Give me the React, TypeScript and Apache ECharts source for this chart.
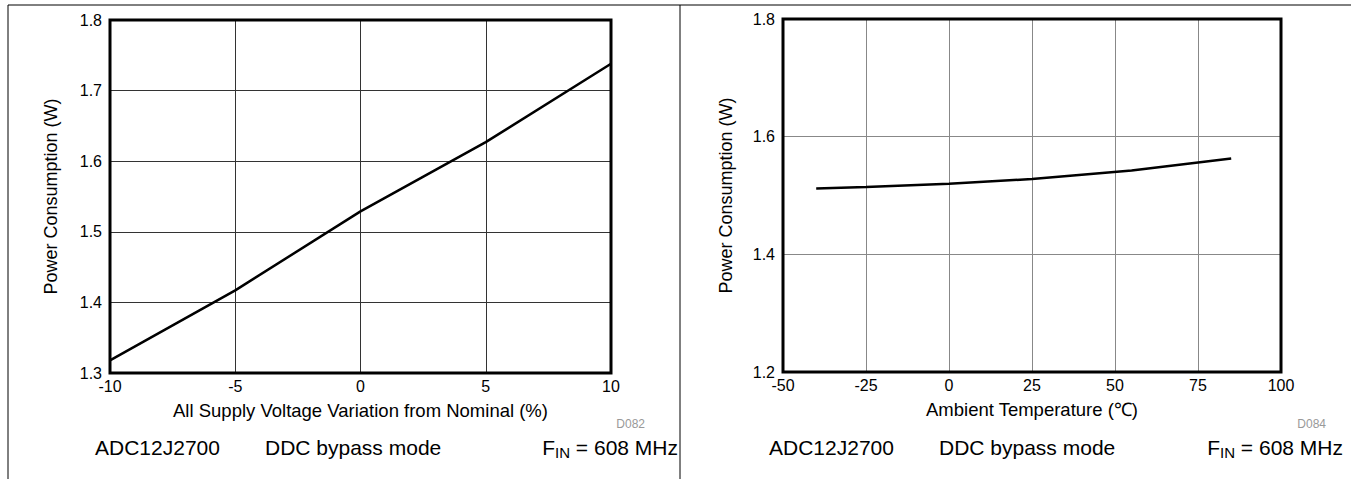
import React, { useEffect, useRef } from "react";
import * as echarts from "echarts";

const voltageVariation = [-10, -5, 0, 5, 10];
const powerVsVoltage = [1.318, 1.417, 1.529, 1.627, 1.738];
const ambientTemp = [-40, -25, 0, 25, 55, 85];
const powerVsTemp = [1.512, 1.5145, 1.52, 1.528, 1.5425, 1.563];

const leftXName = "All Supply Voltage Variation from Nominal (%)";
const rightXName = "Ambient Temperature (℃)";
const yName = "Power Consumption (W)";
const deviceLabel = "ADC12J2700";
const modeLabel = "DDC bypass mode";
const leftCode = "D082";
const rightCode = "D084";

const FONT = "'Liberation Sans', Arial, sans-serif";

export default function App() {
  const ref = useRef<HTMLDivElement>(null);
  useEffect(() => {
    if (!ref.current) return;
    const chart = echarts.init(ref.current, undefined, { renderer: "svg" });
    const tickLabel = { color: "#000", fontSize: 16, fontFamily: FONT };
    const nameStyle = { color: "#000", fontSize: 18.5, fontFamily: FONT };
    const makeY = (gi: number, min: number, max: number, interval: number, gridColor: string, gap: number) => ({
      type: "value",
      gridIndex: gi,
      min,
      max,
      interval,
      name: yName,
      nameLocation: "middle",
      nameGap: gap,
      nameTextStyle: { ...nameStyle, fontSize: 18 },
      axisLine: { show: false },
      axisTick: { show: false },
      axisLabel: { ...tickLabel, margin: 8, formatter: (v: number) => v.toFixed(1) },
      splitLine: { show: true, lineStyle: { color: gridColor, width: 1 } },
    });
    const makeX = (gi: number, min: number, max: number, interval: number, name: string, gridColor: string) => ({
      type: "value",
      gridIndex: gi,
      min,
      max,
      interval,
      name,
      nameLocation: "middle",
      nameGap: 28,
      nameTextStyle: nameStyle,
      axisLine: { show: false },
      axisTick: { show: false },
      axisLabel: { ...tickLabel, margin: 5 },
      splitLine: { show: true, lineStyle: { color: gridColor, width: 1 } },
    });
    const annotation = (xLeft: number, xMid: number, xRight: number) => [
      {
        type: "text",
        x: xLeft,
        y: 447,
        style: { text: deviceLabel, fill: "#000", fontSize: 21, fontFamily: FONT, align: "left", verticalAlign: "middle" },
      },
      {
        type: "text",
        x: xMid,
        y: 447,
        style: { text: modeLabel, fill: "#000", fontSize: 21, fontFamily: FONT, align: "left", verticalAlign: "middle" },
      },
      {
        type: "text",
        x: xRight,
        y: 447,
        style: {
          text: "{m|F}{s|IN}{m| = 608 MHz}",
          fill: "#000",
          fontFamily: FONT,
          align: "right",
          verticalAlign: "middle",
          rich: {
            m: { fontSize: 21, lineHeight: 26, fontFamily: FONT, fill: "#000" },
            s: { fontSize: 15, lineHeight: 15, padding: [11, 0, 0, 0], fontFamily: FONT, fill: "#000" },
          },
        },
      },
    ];
    chart.setOption({
      animation: false,
      backgroundColor: "#fff",
      grid: [
        { left: 110, top: 20, width: 501, height: 353, show: true, borderColor: "#000", borderWidth: 3, backgroundColor: "transparent", z: 3 },
        { left: 783, top: 19, width: 498, height: 353, show: true, borderColor: "#000", borderWidth: 3, backgroundColor: "transparent", z: 3 },
      ],
      xAxis: [
        makeX(0, -10, 10, 5, leftXName, "#333"),
        makeX(1, -50, 100, 25, rightXName, "#888"),
      ],
      yAxis: [
        makeY(0, 1.3, 1.8, 0.1, "#333", 50),
        makeY(1, 1.2, 1.8, 0.2, "#888", 48),
      ],
      series: [
        {
          type: "line",
          xAxisIndex: 0,
          yAxisIndex: 0,
          data: voltageVariation.map((v, i) => [v, powerVsVoltage[i]]),
          showSymbol: false,
          lineStyle: { color: "#000", width: 2.5 },
          z: 2,
        },
        {
          type: "line",
          xAxisIndex: 1,
          yAxisIndex: 1,
          data: ambientTemp.map((v, i) => [v, powerVsTemp[i]]),
          showSymbol: false,
          lineStyle: { color: "#000", width: 2.5 },
          z: 2,
        },
      ],
      graphic: [
        { type: "line", shape: { x1: 8, y1: 5, x2: 1351, y2: 5 }, style: { stroke: "#000", lineWidth: 1 } },
        { type: "line", shape: { x1: 8, y1: 5, x2: 8, y2: 479 }, style: { stroke: "#000", lineWidth: 1 } },
        { type: "line", shape: { x1: 680, y1: 5, x2: 680, y2: 479 }, style: { stroke: "#000", lineWidth: 1 } },
        {
          type: "text",
          x: 645,
          y: 424,
          style: { text: leftCode, fill: "#999", fontSize: 12, fontFamily: FONT, align: "right", verticalAlign: "middle" },
        },
        {
          type: "text",
          x: 1326,
          y: 424,
          style: { text: rightCode, fill: "#999", fontSize: 12, fontFamily: FONT, align: "right", verticalAlign: "middle" },
        },
        ...annotation(95, 265, 678),
        ...annotation(769, 939, 1343),
      ],
    });
    return () => chart.dispose();
  }, []);
  return <div ref={ref} style={{ position: "absolute", left: 0, top: 0, width: 1351, height: 479 }} />;
}
